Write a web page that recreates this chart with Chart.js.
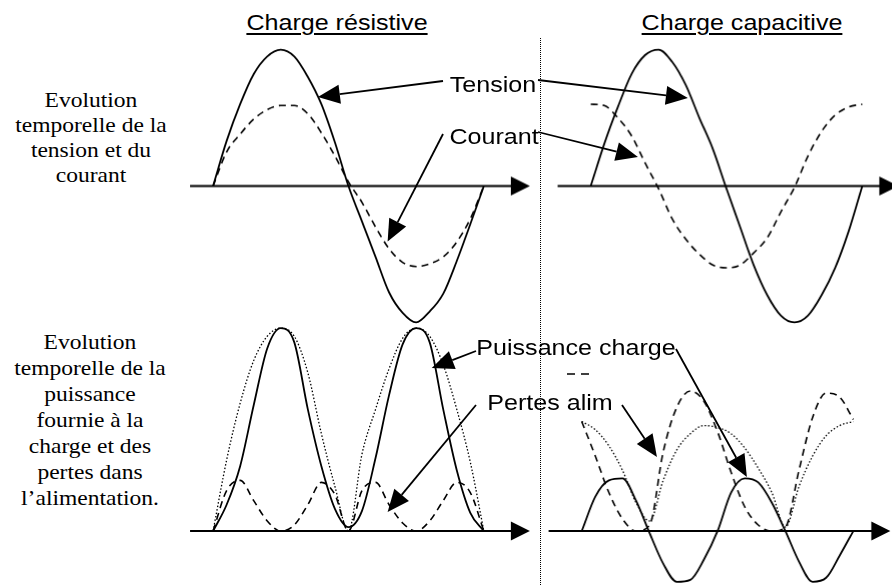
<!DOCTYPE html>
<html lang="fr">
<head>
<meta charset="utf-8">
<title>Charge résistive / charge capacitive</title>
<script src="https://cdn.jsdelivr.net/npm/chart.js@4.4.1/dist/chart.umd.min.js"></script>
<style>
  html, body { margin: 0; padding: 0; background: #fff; }
  #page { position: relative; width: 892px; height: 585px; overflow: hidden; background: #fff; }
  #page canvas { position: absolute; }
  .lbl {
    position: absolute; white-space: nowrap; color: #000;
    font-family: "Liberation Sans", Arial, sans-serif; font-size: 22px; line-height: 24px;
    transform: translate(-50%, -50%) scaleX(1.14);
  }
  .title { text-decoration: underline; text-decoration-thickness: 2px; text-underline-offset: 3px; }
  .side {
    position: absolute; white-space: nowrap; color: #000; text-align: center;
    font-family: "Liberation Serif", "Times New Roman", serif; font-size: 21px; line-height: 25px;
    transform: translateX(-50%) scaleX(1.12);
  }
  #divider { position: absolute; left: 540px; top: 38px; height: 547px; border-left: 1px dotted #000; }
</style>
</head>
<body>
<div id="page">
  <div id="divider"></div>
  <canvas id="overlay" width="892" height="585" style="left:0;top:0;z-index:2"></canvas>

  <div class="lbl title" style="left:337px;top:23px">Charge résistive</div>
  <div class="lbl title" style="left:742px;top:23px">Charge capacitive</div>

  <div class="side" style="left:91px;top:88px">Evolution<br>temporelle de la<br>tension et du<br>courant</div>
  <div class="side" style="left:90px;top:329px;line-height:26px">Evolution<br>temporelle de la<br>puissance<br>fournie à la<br>charge et des<br>pertes dans<br>l’alimentation.</div>

  <div class="lbl" style="left:493px;top:85px;z-index:3">Tension</div>
  <div class="lbl" style="left:494px;top:137px;z-index:3">Courant</div>
  <div class="lbl" style="left:576px;top:348px;z-index:3">Puissance charge</div>
  <div class="lbl" style="left:550px;top:403px;z-index:3">Pertes alim</div>
</div>

<script>
// one 50 Hz period, sampled every millisecond
const timeMs = [0, 1, 2, 3, 4, 5, 6, 7, 8, 9, 10, 11, 12, 13, 14, 15, 16, 17, 18, 19, 20];

// charge résistive : tension / courant (normalised to the voltage peak)
const resVoltage = [0, 0.33, 0.6, 0.82, 0.95, 1.0, 0.95, 0.8, 0.6, 0.32, 0.0, -0.26, -0.52, -0.78, -0.93, -1.0, -0.92, -0.79, -0.55, -0.28, 0];
const resCurrent = [0, 0.25, 0.38, 0.49, 0.56, 0.59, 0.59, 0.53, 0.39, 0.22, 0.03, -0.12, -0.3, -0.46, -0.56, -0.59, -0.57, -0.52, -0.41, -0.24, 0];

// charge capacitive : tension / courant
const capVoltage = [0, 0.31, 0.58, 0.82, 0.96, 1.0, 0.91, 0.74, 0.5, 0.27, -0.02, -0.3, -0.58, -0.8, -0.95, -1.0, -0.95, -0.8, -0.6, -0.33, 0];
const capCurrent = [0.6, 0.59, 0.5, 0.37, 0.17, -0.02, -0.24, -0.39, -0.5, -0.58, -0.6, -0.58, -0.49, -0.38, -0.19, -0.01, 0.22, 0.4, 0.52, 0.58, 0.6];

// puissance (normalised to the resistive peak)
const resPower  = [0, 0.13, 0.32, 0.62, 0.9, 1.0, 0.93, 0.6, 0.32, 0.11, 0.02, 0.1, 0.36, 0.67, 0.92, 1.0, 0.93, 0.6, 0.3, 0.09, 0];
const resDotted = [0, 0.35, 0.63, 0.84, 0.96, 1.0, 0.96, 0.78, 0.48, 0.22, 0, 0.38, 0.6, 0.8, 0.95, 1.0, 0.96, 0.82, 0.6, 0.34, 0];
const resLosses = [0, 0.2, 0.25, 0.15, 0.05, 0, 0.03, 0.13, 0.24, 0.18, 0, 0.2, 0.24, 0.13, 0.04, 0, 0.05, 0.15, 0.24, 0.19, 0];

const capPower  = [0, 0.17, 0.25, 0.26, 0.15, -0.01, -0.16, -0.25, -0.24, -0.14, 0, 0.19, 0.26, 0.24, 0.14, 0, -0.15, -0.25, -0.23, -0.12, 0];
const capLosses = [0.54, 0.37, 0.19, 0.06, 0.0, 0.03, 0.39, 0.61, 0.69, 0.64, 0.49, 0.29, 0.12, 0.03, 0.0, 0.02, 0.3, 0.56, 0.68, 0.66, 0.55];
const capDotted = [0.54, 0.5, 0.42, 0.3, 0.14, 0.05, 0.25, 0.4, 0.48, 0.52, 0.51, 0.48, 0.41, 0.31, 0.19, 0.02, 0.22, 0.37, 0.47, 0.52, 0.54];

const PX_PER_MS = 13.55;

const lineStyles = {
  solid:  { borderWidth: 1.8, borderDash: [] },
  dashed: { borderWidth: 1.6, borderDash: [7, 5] },
  dotted: { borderWidth: 1.3, borderDash: [1.5, 2] }
};

// x0/y0 = page position of (t = 0, value = 0)
const panels = {
  resTop: { x0: 213, y0: 186, unit: 136, xMin: -2, xMax: 24, yMin: -1.1, yMax: 1.1, axis: [-1.7, 23.4],
            series: [[resVoltage, 'solid'], [resCurrent, 'dashed']] },
  capTop: { x0: 591, y0: 186, unit: 136, xMin: -3, xMax: 23, yMin: -1.1, yMax: 1.1, axis: [-2.44, 22.66],
            series: [[capVoltage, 'solid'], [capCurrent, 'dashed']] },
  resBot: { x0: 213, y0: 531, unit: 203, xMin: -2, xMax: 24, yMin: -0.3, yMax: 1.05, axis: [-1.7, 23.4],
            series: [[resPower, 'solid'], [resDotted, 'dotted'], [resLosses, 'dashed']] },
  capBot: { x0: 582, y0: 531, unit: 203, xMin: -3, xMax: 23, yMin: -0.3, yMax: 1.05, axis: [-2.44, 22.73],
            series: [[capPower, 'solid'], [capDotted, 'dotted'], [capLosses, 'dashed']] }
};

// horizontal time axis through zero, with its arrow head
const timeAxis = {
  id: 'timeAxis',
  beforeDatasetsDraw(chart, args, opts) {
    const { ctx, scales: { x, y } } = chart;
    const yz = y.getPixelForValue(0);
    const x1 = x.getPixelForValue(opts.from);
    const x2 = x.getPixelForValue(opts.to);
    ctx.save();
    ctx.strokeStyle = '#000';
    ctx.fillStyle = '#000';
    ctx.lineWidth = 2;
    ctx.beginPath();
    ctx.moveTo(x1, yz);
    ctx.lineTo(x2 - 10, yz);
    ctx.stroke();
    ctx.beginPath();
    ctx.moveTo(x2, yz);
    ctx.lineTo(x2 - 19, yz - 9.5);
    ctx.lineTo(x2 - 19, yz + 9.5);
    ctx.closePath();
    ctx.fill();
    ctx.restore();
  }
};

const page = document.getElementById('page');
const charts = {};

for (const [id, p] of Object.entries(panels)) {
  const w = (p.xMax - p.xMin) * PX_PER_MS;
  const h = (p.yMax - p.yMin) * p.unit;
  const left = p.x0 + p.xMin * PX_PER_MS;
  const top = p.y0 - p.yMax * p.unit;
  const canvas = document.createElement('canvas');
  canvas.width = w;
  canvas.height = h;
  canvas.style.width = w + 'px';
  canvas.style.height = h + 'px';
  canvas.style.left = left + 'px';
  canvas.style.top = top + 'px';
  canvas.style.zIndex = 1;
  page.appendChild(canvas);

  const chart = new Chart(canvas.getContext('2d'), {
    type: 'line',
    data: {
      datasets: p.series.map(([values, style]) => ({
        data: timeMs.map((t, i) => ({ x: t, y: values[i] })),
        borderColor: '#000',
        borderWidth: lineStyles[style].borderWidth,
        borderDash: lineStyles[style].borderDash,
        pointRadius: 0,
        cubicInterpolationMode: 'monotone',
        fill: false,
        clip: false
      }))
    },
    options: {
      responsive: false,
      animation: false,
      devicePixelRatio: 1,
      layout: { padding: 0 },
      events: [],
      scales: {
        x: { type: 'linear', min: p.xMin, max: p.xMax, display: false },
        y: { type: 'linear', min: p.yMin, max: p.yMax, display: false }
      },
      plugins: {
        legend: { display: false },
        tooltip: { enabled: false },
        timeAxis: { from: p.axis[0], to: p.axis[1] }
      }
    },
    plugins: [timeAxis]
  });
  charts[id] = { chart, left, top };
}

// label pointers: tail near the text, head on a curve (panel, ms, value)
const pointers = [
  { from: [443, 81],  panel: 'resTop', at: [7.75, 0.654] },
  { from: [538, 80],  panel: 'capTop', at: [7.16, 0.647] },
  { from: [443, 134], panel: 'resTop', at: [12.9, -0.41] },
  { from: [538, 132], panel: 'capTop', at: [3.47, 0.213] },
  { from: [476, 351], panel: 'resBot', at: [16.16, 0.803] },
  { from: [676, 349], panel: 'capBot', at: [12.18, 0.266] },
  { from: [476, 405], panel: 'resBot', at: [12.9, 0.094] },
  { from: [622, 405], panel: 'capBot', at: [5.54, 0.365] }
];

function toPage(panelId, t, v) {
  const { chart, left, top } = charts[panelId];
  return [left + chart.scales.x.getPixelForValue(t), top + chart.scales.y.getPixelForValue(v)];
}

const ov = document.getElementById('overlay').getContext('2d');
ov.strokeStyle = '#000';
ov.fillStyle = '#000';
ov.lineWidth = 1.8;

for (const a of pointers) {
  const [x1, y1] = a.from;
  const [x2, y2] = toPage(a.panel, a.at[0], a.at[1]);
  const ang = Math.atan2(y2 - y1, x2 - x1);
  const len = 22, half = 9.5;
  const bx = x2 - len * Math.cos(ang), by = y2 - len * Math.sin(ang);
  ov.beginPath();
  ov.moveTo(x1, y1);
  ov.lineTo(bx, by);
  ov.stroke();
  ov.beginPath();
  ov.moveTo(x2, y2);
  ov.lineTo(bx + half * Math.sin(ang), by - half * Math.cos(ang));
  ov.lineTo(bx - half * Math.sin(ang), by + half * Math.cos(ang));
  ov.closePath();
  ov.fill();
}

// small dashed remnant between the two lower labels
ov.save();
ov.lineWidth = 1.5;
ov.setLineDash([8, 6]);
ov.beginPath();
ov.moveTo(567, 374);
ov.lineTo(590, 374);
ov.stroke();
ov.restore();
</script>
</body>
</html>
